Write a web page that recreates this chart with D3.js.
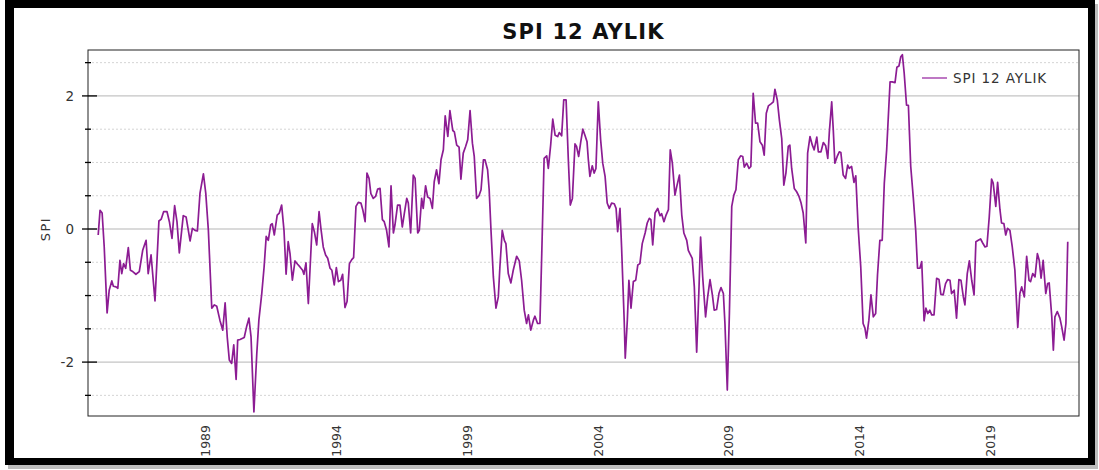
<!DOCTYPE html>
<html lang="tr">
  <head>
    <meta charset="UTF-8" />
    <title>SPI 12 AYLIK</title>
    <script src="https://d3js.org/d3.v7.min.js"></script>
    <style>
      body {
        margin: 0;
        padding: 0;
        background: #ffffff;
        font-family: "DejaVu Sans", Verdana, sans-serif;
      }
      svg text {
        fill: #333;
      }
    </style>
  </head>
  <body>
    <div id="chart"></div>
    <script>
      const width = 1099;
      const height = 470;

      const chartTitle = "SPI 12 AYLIK";
      const seriesName = "SPI 12 AYLIK";
      const yLabel = "SPI";
      const yearTicks = [1989, 1994, 1999, 2004, 2009, 2014, 2019];
      const yMajor = [-2, 0, 2];
      const yMinor = [-2.5, -1.5, -1, -0.5, 0.5, 1, 1.5, 2.5];

      // time as decimal years
      const years = [
        1984.9, 1984.97, 1985.05, 1985.13, 1985.24, 1985.32, 1985.42, 1985.48, 1985.58, 1985.65,
        1985.73, 1985.8, 1985.87, 1985.95, 1986.05, 1986.13, 1986.22, 1986.34, 1986.47, 1986.6,
        1986.73, 1986.81, 1986.92, 1987.07, 1987.22, 1987.31, 1987.4, 1987.53, 1987.62, 1987.72,
        1987.82, 1987.91, 1988.0, 1988.15, 1988.26, 1988.41, 1988.5, 1988.6, 1988.69, 1988.79,
        1988.92, 1989.01, 1989.11, 1989.24, 1989.34, 1989.43, 1989.55, 1989.66, 1989.75, 1989.83,
        1989.91, 1990.0, 1990.08, 1990.17, 1990.23, 1990.32, 1990.48, 1990.57, 1990.66, 1990.74,
        1990.85, 1990.96, 1991.04, 1991.15, 1991.24, 1991.32, 1991.4, 1991.49, 1991.55, 1991.63,
        1991.74, 1991.82, 1991.91, 1992.0, 1992.08, 1992.16, 1992.23, 1992.32, 1992.42, 1992.52,
        1992.61, 1992.71, 1992.76, 1992.84, 1992.93, 1993.08, 1993.16, 1993.25, 1993.34, 1993.41,
        1993.5, 1993.59, 1993.67, 1993.76, 1993.83, 1993.92, 1994.0, 1994.08, 1994.17, 1994.24,
        1994.33, 1994.41, 1994.5, 1994.59, 1994.66, 1994.75, 1994.84, 1994.94, 1995.01, 1995.1,
        1995.17, 1995.25, 1995.32, 1995.41, 1995.5, 1995.58, 1995.67, 1995.76, 1995.83, 1995.92,
        1996.01, 1996.09, 1996.18, 1996.24, 1996.34, 1996.43, 1996.52, 1996.6, 1996.69, 1996.75,
        1996.84, 1996.94, 1997.01, 1997.11, 1997.17, 1997.26, 1997.32, 1997.41, 1997.49, 1997.58,
        1997.67, 1997.74, 1997.83, 1997.92, 1998.0, 1998.09, 1998.16, 1998.26, 1998.34, 1998.45,
        1998.51, 1998.6, 1998.69, 1998.76, 1998.85, 1998.94, 1999.02, 1999.11, 1999.2, 1999.27,
        1999.36, 1999.45, 1999.53, 1999.62, 1999.68, 1999.78, 1999.84, 1999.91, 2000.0, 2000.1,
        2000.19, 2000.25, 2000.34, 2000.42, 2000.48, 2000.57, 2000.67, 2000.76, 2000.89, 2000.99,
        2001.08, 2001.18, 2001.27, 2001.34, 2001.43, 2001.53, 2001.59, 2001.69, 2001.78, 2001.85,
        2001.94, 2002.04, 2002.1, 2002.19, 2002.27, 2002.36, 2002.46, 2002.52, 2002.61, 2002.69,
        2002.78, 2002.86, 2002.94, 2003.02, 2003.12, 2003.18, 2003.26, 2003.34, 2003.42, 2003.5,
        2003.58, 2003.63, 2003.69, 2003.78, 2003.85, 2003.92, 2004.01, 2004.1, 2004.18, 2004.27,
        2004.35, 2004.43, 2004.52, 2004.62, 2004.69, 2004.75, 2004.84, 2004.9, 2005.0, 2005.04,
        2005.12, 2005.18, 2005.26, 2005.35, 2005.44, 2005.52, 2005.6, 2005.69, 2005.8, 2005.88,
        2005.96, 2006.02, 2006.09, 2006.18, 2006.28, 2006.37, 2006.43, 2006.52, 2006.6, 2006.69,
        2006.76, 2006.84, 2006.94, 2007.01, 2007.11, 2007.2, 2007.28, 2007.39, 2007.45, 2007.51,
        2007.6, 2007.68, 2007.77, 2007.86, 2007.92, 2008.0, 2008.11, 2008.19, 2008.28, 2008.37,
        2008.44, 2008.53, 2008.62, 2008.7, 2008.79, 2008.85, 2008.94, 2009.02, 2009.11, 2009.19,
        2009.27, 2009.36, 2009.45, 2009.53, 2009.59, 2009.68, 2009.77, 2009.84, 2009.93, 2010.02,
        2010.1, 2010.19, 2010.28, 2010.35, 2010.43, 2010.51, 2010.61, 2010.7, 2010.76, 2010.85,
        2010.93, 2011.02, 2011.1, 2011.18, 2011.27, 2011.33, 2011.4, 2011.5, 2011.59, 2011.68,
        2011.76, 2011.84, 2011.94, 2012.01, 2012.1, 2012.19, 2012.26, 2012.36, 2012.42, 2012.52,
        2012.61, 2012.7, 2012.78, 2012.84, 2012.93, 2012.99, 2013.05, 2013.14, 2013.22, 2013.28,
        2013.37, 2013.46, 2013.54, 2013.6, 2013.69, 2013.78, 2013.85, 2013.94, 2014.04, 2014.13,
        2014.2, 2014.26, 2014.35, 2014.43, 2014.52, 2014.61, 2014.68, 2014.77, 2014.86, 2014.94,
        2015.03, 2015.16, 2015.24, 2015.35, 2015.42, 2015.5, 2015.57, 2015.63, 2015.7, 2015.79,
        2015.86, 2015.95, 2016.05, 2016.14, 2016.21, 2016.3, 2016.37, 2016.46, 2016.53, 2016.6,
        2016.68, 2016.75, 2016.84, 2016.94, 2017.03, 2017.1, 2017.19, 2017.28, 2017.36, 2017.45,
        2017.51, 2017.61, 2017.7, 2017.79, 2017.87, 2017.96, 2018.02, 2018.11, 2018.19, 2018.28,
        2018.37, 2018.44, 2018.53, 2018.62, 2018.7, 2018.79, 2018.86, 2018.95, 2019.04, 2019.1,
        2019.2, 2019.27, 2019.36, 2019.42, 2019.51, 2019.58, 2019.65, 2019.74, 2019.83, 2019.93,
        2020.04, 2020.12, 2020.19, 2020.29, 2020.38, 2020.47, 2020.53, 2020.61, 2020.7, 2020.79,
        2020.86, 2020.93, 2021.01, 2021.11, 2021.18, 2021.24, 2021.34, 2021.4, 2021.46, 2021.55,
        2021.65, 2021.72, 2021.81, 2021.88, 2021.95
      ];

      const spi = [
        -0.09, 0.28, 0.24, -0.27, -1.26, -0.92, -0.78, -0.86, -0.87, -0.89,
        -0.47, -0.67, -0.52, -0.59, -0.28, -0.62, -0.64, -0.68, -0.64, -0.32,
        -0.17, -0.67, -0.39, -1.08, 0.12, 0.15, 0.26, 0.26, 0.11, -0.14,
        0.35, 0.11, -0.36, 0.2, 0.18, -0.18, 0.01, -0.02, -0.03, 0.54,
        0.83, 0.54, -0.02, -1.19, -1.14, -1.16, -1.37, -1.52, -1.11, -1.62,
        -1.97, -2.02, -1.74, -2.26, -1.67, -1.66, -1.63, -1.47, -1.34, -1.62,
        -2.75, -1.87, -1.37, -0.97, -0.57, -0.11, -0.17, 0.06, 0.08, -0.09,
        0.21, 0.24, 0.36, -0.02, -0.68, -0.19, -0.37, -0.77, -0.48, -0.53,
        -0.57, -0.62, -0.68, -0.51, -1.12, 0.08, -0.04, -0.24, 0.26, 0.01,
        -0.27, -0.39, -0.44, -0.59, -0.62, -0.84, -0.58, -0.79, -0.77, -0.68,
        -1.18, -1.09, -0.52, -0.46, -0.43, 0.34, 0.4, 0.39, 0.29, 0.11,
        0.84, 0.76, 0.53, 0.46, 0.49, 0.6, 0.61, 0.14, 0.11, -0.02,
        -0.27, 0.65, -0.06, 0.06, 0.36, 0.36, 0.03, 0.24, 0.46, 0.39,
        -0.06, 0.81, 0.76, -0.06, -0.02, 0.46, 0.31, 0.65, 0.48, 0.46,
        0.31, 0.71, 0.89, 0.68, 1.04, 1.19, 1.7, 1.39, 1.78, 1.48,
        1.46, 1.26, 1.23, 0.75, 1.14, 1.24, 1.34, 1.78, 1.29, 1.09,
        0.46, 0.5, 0.59, 1.04, 1.04, 0.89, 0.59, -0.02, -0.72, -1.19,
        -1.02, -0.57, -0.02, -0.17, -0.22, -0.67, -0.81, -0.62, -0.41, -0.48,
        -0.77, -1.22, -1.42, -1.29, -1.52, -1.37, -1.31, -1.42, -1.42, -0.37,
        1.06, 1.1, 0.91, 1.26, 1.65, 1.41, 1.39, 1.45, 1.4, 1.94,
        1.94, 1.09, 0.36, 0.46, 1.28, 1.24, 1.09, 1.31, 1.5, 1.41,
        1.31, 1.04, 0.79, 0.95, 0.84, 0.91, 1.91, 1.34, 0.99, 0.79,
        0.39, 0.31, 0.39, 0.38, 0.31, -0.04, 0.31, -0.27, -1.37, -1.94,
        -1.37, -0.77, -1.19, -0.79, -0.77, -0.54, -0.52, -0.22, -0.06, 0.09,
        0.16, 0.14, -0.24, 0.24, 0.31, 0.2, 0.23, 0.11, 0.21, 0.29,
        1.19, 0.99, 0.51, 0.64, 0.81, 0.21, -0.06, -0.17, -0.32, -0.37,
        -0.44, -0.87, -1.85, -0.87, -0.12, -0.72, -1.32, -1.02, -0.76, -0.99,
        -1.22, -1.21, -0.97, -0.88, -0.97, -1.42, -2.42, -1.27, 0.34, 0.51,
        0.59, 1.04, 1.1, 1.09, 0.93, 0.99, 0.91, 0.94, 2.04, 1.59,
        1.59, 1.31, 1.26, 1.11, 1.74, 1.85, 1.88, 1.91, 2.1, 1.94,
        1.64, 1.36, 0.66, 0.84, 1.24, 1.26, 0.91, 0.61, 0.56, 0.49,
        0.39, 0.24, -0.21, 1.14, 1.39, 1.26, 1.19, 1.38, 1.16, 1.16,
        1.3, 1.25, 1.06, 1.46, 1.91, 1.49, 0.99, 1.09, 1.16, 1.15,
        0.81, 0.76, 0.96, 0.91, 0.94, 0.7, 0.8, 0.03, -0.57, -1.42,
        -1.49, -1.64, -1.37, -0.99, -1.32, -1.27, -0.69, -0.17, -0.17, 0.69,
        1.19, 2.21, 2.21, 2.2, 2.43, 2.45, 2.59, 2.62, 2.34, 1.86,
        1.86, 0.94, 0.46, -0.02, -0.59, -0.59, -0.49, -1.38, -1.19, -1.27,
        -1.22, -1.29, -1.29, -0.74, -0.76, -0.98, -0.99, -0.82, -0.76, -0.77,
        -0.97, -0.92, -1.34, -0.76, -0.77, -1.02, -1.14, -0.67, -0.48, -0.77,
        -0.99, -0.19, -0.17, -0.15, -0.21, -0.27, -0.26, 0.18, 0.75, 0.69,
        0.34, 0.7, 0.29, 0.09, 0.08, -0.09, 0.01, -0.02, -0.27, -0.62,
        -1.48, -0.97, -0.87, -1.02, -0.41, -0.77, -0.79, -0.67, -0.72, -0.37,
        -0.47, -0.74, -0.47, -0.97, -0.82, -0.81, -1.32, -1.82, -1.32, -1.24,
        -1.34, -1.47, -1.67, -1.42, -0.19
      ];

      const data = years.map((t, i) => ({ t: t, v: spi[i] }));

      const margin = { top: 50, right: 20, bottom: 54, left: 88 };
      const plotW = 1079 - margin.left;
      const plotH = 416 - margin.top;

      const svg = d3
        .select("#chart")
        .append("svg")
        .attr("width", width)
        .attr("height", height);

      // outer black frame with a soft shadow
      svg
        .append("rect")
        .attr("x", 8)
        .attr("y", 4)
        .attr("width", 1090)
        .attr("height", 465)
        .attr("fill", "#bdbdbd");
      svg
        .append("rect")
        .attr("x", 5)
        .attr("y", 0)
        .attr("width", 1090)
        .attr("height", 465)
        .attr("fill", "#000");
      svg
        .append("rect")
        .attr("x", 14)
        .attr("y", 8)
        .attr("width", 1074)
        .attr("height", 450)
        .attr("fill", "#fff");

      const x = d3.scaleLinear().domain([1984.51, 2022.38]).range([0, plotW]);
      const y = d3.scaleLinear().domain([-2.81, 2.69]).range([plotH, 0]);

      const g = svg
        .append("g")
        .attr("transform", `translate(${margin.left},${margin.top})`);

      // grid lines
      g.selectAll(".minor-grid")
        .data(yMinor)
        .enter()
        .append("line")
        .attr("x1", 0)
        .attr("x2", plotW)
        .attr("y1", (d) => y(d))
        .attr("y2", (d) => y(d))
        .attr("stroke", "#d4d4d4")
        .attr("stroke-dasharray", "2,2");

      g.selectAll(".major-grid")
        .data(yMajor)
        .enter()
        .append("line")
        .attr("x1", 0)
        .attr("x2", plotW)
        .attr("y1", (d) => y(d))
        .attr("y2", (d) => y(d))
        .attr("stroke", "#b5b5b5");

      // series
      const line = d3
        .line()
        .x((d) => x(d.t))
        .y((d) => y(d.v));

      g.append("path")
        .datum(data)
        .attr("fill", "none")
        .attr("stroke", "#8c1c93")
        .attr("stroke-width", 1.7)
        .attr("stroke-linejoin", "round")
        .attr("d", line);

      // frame of the plot area
      g.append("rect")
        .attr("width", plotW)
        .attr("height", plotH)
        .attr("fill", "none")
        .attr("stroke", "#222");

      // y axis ticks
      g.selectAll(".ymaj")
        .data(yMajor)
        .enter()
        .append("line")
        .attr("x1", -6)
        .attr("x2", 9)
        .attr("y1", (d) => y(d))
        .attr("y2", (d) => y(d))
        .attr("stroke", "#000")
        .attr("stroke-width", 1.3);

      g.selectAll(".ymin")
        .data(yMinor)
        .enter()
        .append("line")
        .attr("x1", -3)
        .attr("x2", 3)
        .attr("y1", (d) => y(d))
        .attr("y2", (d) => y(d))
        .attr("stroke", "#000")
        .attr("stroke-width", 1.3);

      g.selectAll(".ylab")
        .data(yMajor)
        .enter()
        .append("text")
        .attr("x", -14)
        .attr("y", (d) => y(d))
        .attr("dy", "0.36em")
        .attr("text-anchor", "end")
        .attr("font-size", 13.5)
        .text((d) => d);

      // x axis labels (rotated)
      g.selectAll(".xlab")
        .data(yearTicks)
        .enter()
        .append("text")
        .attr(
          "transform",
          (d) => `translate(${x(d)},${plotH + 9}) rotate(-90)`
        )
        .attr("dy", "0.36em")
        .attr("text-anchor", "end")
        .attr("font-size", 12.5)
        .text((d) => d);

      // y label
      svg
        .append("text")
        .attr("transform", `translate(45,${margin.top + y(0)}) rotate(-90)`)
        .attr("text-anchor", "middle")
        .attr("dy", "0.36em")
        .attr("font-size", 13)
        .attr("letter-spacing", 1.5)
        .text(yLabel);

      // title
      svg
        .append("text")
        .attr("x", margin.left + plotW / 2)
        .attr("y", 39)
        .attr("text-anchor", "middle")
        .attr("font-size", 21)
        .attr("font-weight", "bold")
        .attr("letter-spacing", 1.1)
        .style("fill", "#111")
        .text(chartTitle);

      // legend
      const legend = svg.append("g").attr("transform", "translate(922,78)");
      legend
        .append("line")
        .attr("x1", 0)
        .attr("x2", 25)
        .attr("stroke", "#a94bb0")
        .attr("stroke-width", 1.5);
      legend
        .append("text")
        .attr("x", 31)
        .attr("dy", "0.36em")
        .attr("font-size", 13.5)
        .attr("letter-spacing", 0.9)
        .text(seriesName);
    </script>
  </body>
</html>
